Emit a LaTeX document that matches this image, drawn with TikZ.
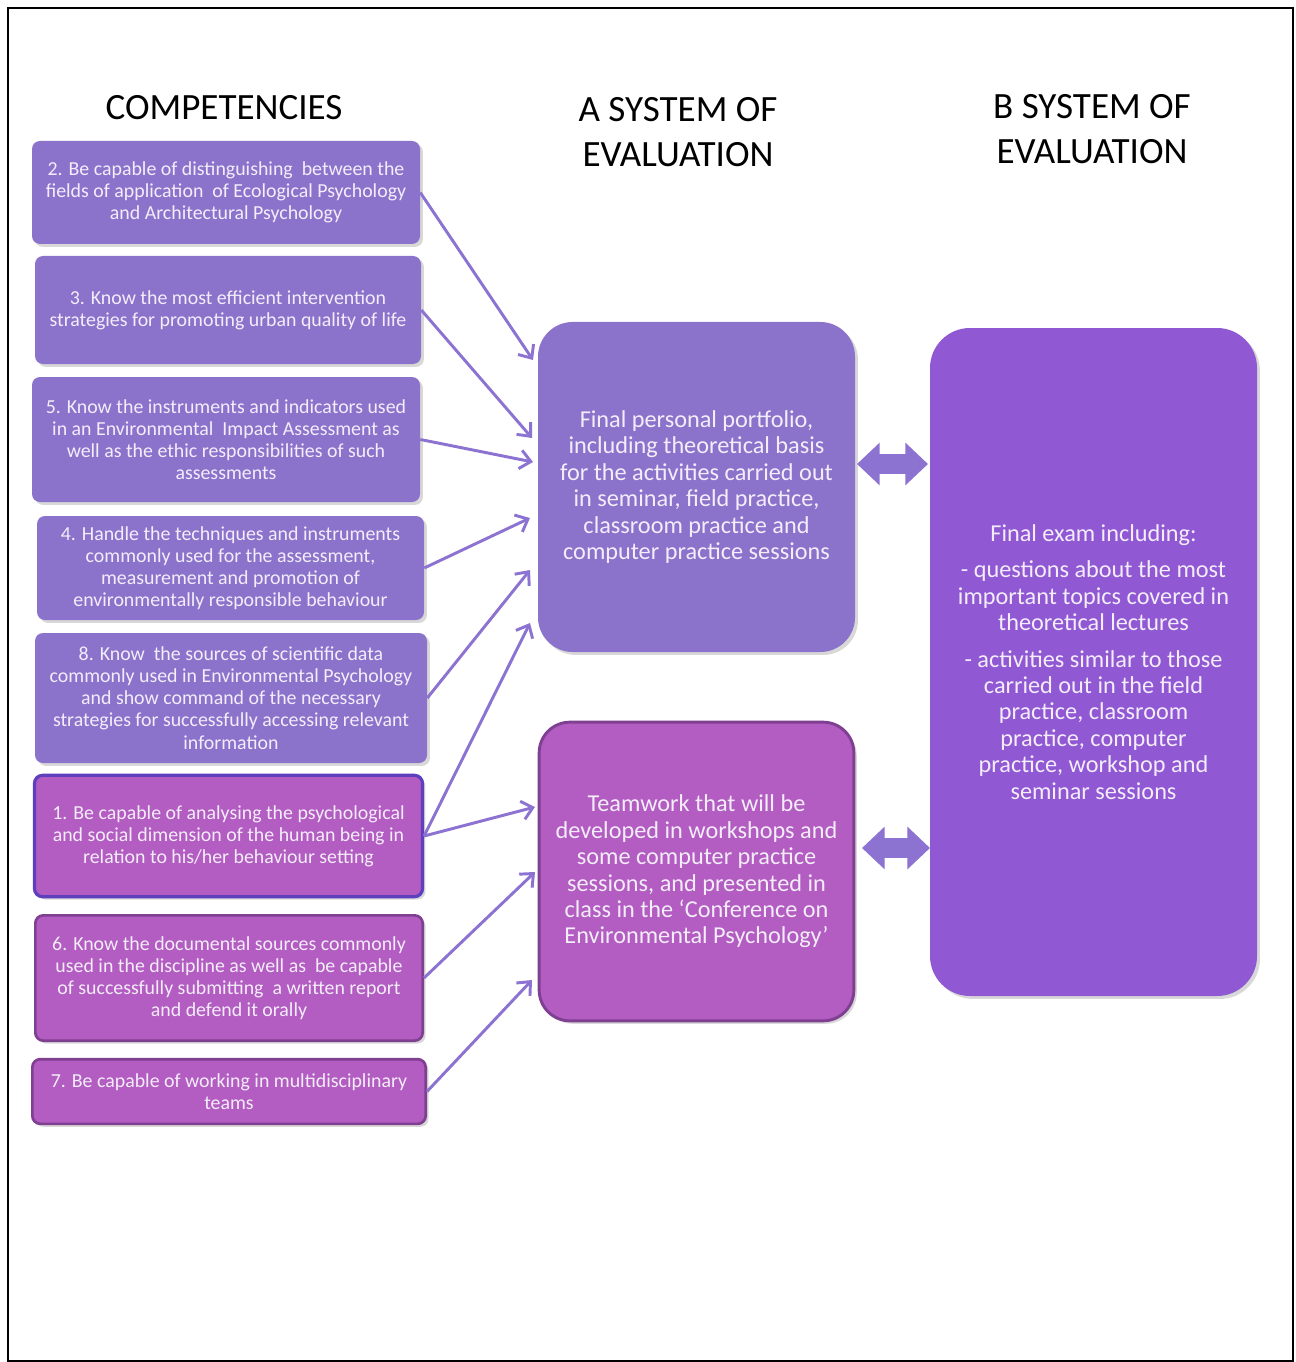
\documentclass[tikz,border=0pt]{standalone}
\usepackage{fontspec}
\setmainfont{Carlito}
\usetikzlibrary{arrows.meta,shadows}
\definecolor{lav}{RGB}{139,115,204}
\definecolor{mag}{RGB}{179,92,193}
\definecolor{magb}{RGB}{128,64,145}
\definecolor{blub}{RGB}{94,64,190}
\definecolor{rbox}{RGB}{145,88,212}
\definecolor{arrc}{RGB}{140,115,210}
\definecolor{txtc}{RGB}{243,237,250}
\pgfdeclareradialshading{bgshade}{\pgfpoint{0bp}{0bp}}{color(0bp)=(white); color(36bp)=(white); color(50bp)=(black!5); color(71bp)=(black!13)}
\tikzset{
  shd/.style={drop shadow={opacity=0.3, shadow xshift=2.2pt, shadow yshift=-2.2pt}},
  comp/.style={rounded corners=6pt, inner sep=0pt, align=center, text=txtc, shd,
     font=\fontsize{14.9}{16.6}\selectfont},
  lavbox/.style={comp, fill=lav},
  magbox/.style={comp, fill=mag, draw=magb, line width=2pt},
  evalbox/.style={inner sep=0pt, align=center, text=txtc, shd,
     font=\fontsize{18.2}{19.8}\selectfont},
  head/.style={align=center, text=black, font=\fontsize{27.8}{34}\selectfont},
  conn/.style={draw=arrc, line width=2.2pt, -{Straight Barb[length=8pt,width=14pt]}},
  dbl/.style={draw=arrc, line width=15pt, {Triangle[length=17pt,width=31pt]}-{Triangle[length=17pt,width=31pt]}},
}
\begin{document}
\begin{tikzpicture}[x=0.75pt,y=-0.75pt]
\useasboundingbox (0,0) rectangle (1295,1362);
\fill[white] (0,0) rectangle (1295,1362);
\shade[shading=bgshade] (22,82) rectangle (1267,1128);
\draw[line width=1.6pt] (8,8) rectangle (1293,1361);

% headings
\node[head] (hc) at (224,108) {COMPETENCIES};
\node[head] (ha) at (678,132) {A SYSTEM OF\\EVALUATION};
\node[head] (hb) at (1092,129) {B SYSTEM OF\\EVALUATION};

% competency boxes
\node[lavbox, minimum width=291pt, minimum height=77.25pt] (b2) at (226,192.5)
 {2. Be capable of distinguishing\ \ between the\\fields of application\ \ of Ecological Psychology\\and Architectural Psychology};
\node[lavbox, minimum width=289.5pt, minimum height=81pt] (b3) at (228,310)
 {3. Know the most efficient intervention\\strategies for promoting urban quality of life};
\node[lavbox, minimum width=291pt, minimum height=93.75pt] (b5) at (226,439.5)
 {5. Know the instruments and indicators used\\in an Environmental\ \ Impact Assessment as\\well as the ethic responsibilities of such\\assessments};
\node[lavbox, minimum width=290.25pt, minimum height=78pt] (b4) at (230.5,568)
 {4. Handle the techniques and instruments\\commonly used for the assessment,\\measurement and promotion of\\environmentally responsible behaviour};
\node[lavbox, minimum width=294pt, minimum height=97.5pt] (b8) at (231,698)
 {8. Know\ \ the sources of scientific data\\commonly used in Environmental Psychology\\and show command of the necessary\\strategies for successfully accessing relevant\\information};
\node[magbox, draw=blub, line width=2.4pt, minimum width=291pt, minimum height=91pt] (b1) at (228.5,836)
 {1. Be capable of analysing the psychological\\and social dimension of the human being in\\relation to his/her behaviour setting};
\node[magbox, minimum width=290.5pt, minimum height=94pt] (b6) at (229,978)
 {6. Know the documental sources commonly\\used in the discipline as well as\ \ be capable\\of successfully submitting\ \ a written report\\and defend it orally};
\node[magbox, minimum width=295pt, minimum height=48.5pt] (b7) at (229,1091.5)
 {7. Be capable of working in multidisciplinary\\teams};

% evaluation boxes
\node[evalbox, fill=lav, rounded corners=26pt, minimum width=237.75pt, minimum height=247.5pt] (pA) at (696.5,487)
 {Final personal portfolio,\\including theoretical basis\\for the activities carried out\\in seminar, field practice,\\classroom practice and\\computer practice sessions};
\node[evalbox, fill=mag, draw=magb, line width=2.2pt, rounded corners=23pt, minimum width=236pt, minimum height=224pt] (pB) at (696.5,871.5)
 {Teamwork that will be\\developed in workshops and\\some computer practice\\sessions, and presented in\\class in the ‘Conference on\\Environmental Psychology’};
\node[evalbox, fill=rbox, rounded corners=30pt, minimum width=245.25pt, minimum height=501pt] (R) at (1093.5,662)
 {Final exam including:\\[7.5pt]- questions about the most\\important topics covered in\\theoretical lectures\\[7.5pt]- activities similar to those\\carried out in the field\\practice, classroom\\practice, computer\\practice, workshop and\\seminar sessions};

% arrow end points on the evaluation boxes
\coordinate (a1) at (533,360);
\coordinate (a2) at (532,438);
\coordinate (a3) at (533,462);
\coordinate (a4) at (530,518);
\coordinate (a5) at (530,570);
\coordinate (a6) at (530,623);
\coordinate (p1) at (535,807);
\coordinate (p2) at (535,872);
\coordinate (p3) at (532,980);
\coordinate (d1s) at (857,464);
\coordinate (d1e) at (928,464);
\coordinate (d2s) at (862,848);
\coordinate (d2e) at (930,848);

\draw[conn] (b2.east) -- (a1);
\draw[conn] (b3.east) -- (a2);
\draw[conn] (b5.east) -- (a3);
\draw[conn] (b4.east) -- (a4);
\draw[conn] (b8.east) -- (a5);
\draw[conn] (b1.east) -- (a6);
\draw[conn] (b1.east) -- (p1);
\draw[conn] (b6.east) -- (p2);
\draw[conn] (b7.east) -- (p3);

\draw[dbl] (d1s) -- (d1e);
\draw[dbl] (d2s) -- (d2e);
\end{tikzpicture}
\end{document}
